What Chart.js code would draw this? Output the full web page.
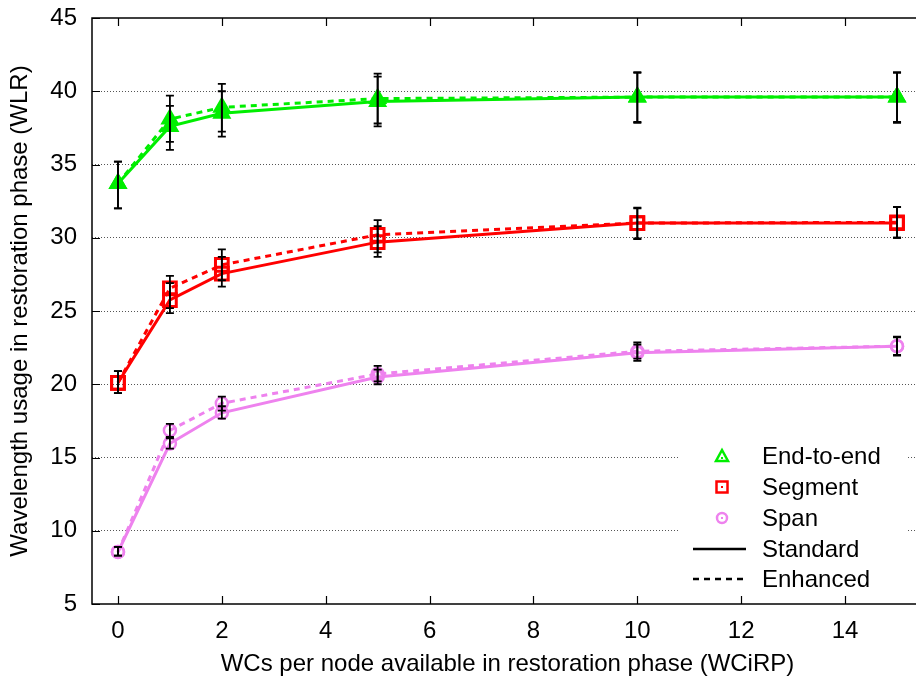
<!DOCTYPE html>
<html lang="en">
<head>
<meta charset="utf-8">
<title>Wavelength usage in restoration phase</title>
<script src="https://cdn.jsdelivr.net/npm/chart.js"></script>
<style>
  html, body { margin: 0; padding: 0; background: #fff; overflow: hidden; }
  #wrap { position: absolute; left: 0; top: 0; width: 924px; height: 684px; }
  #wlr-chart { display: block; width: 924px; height: 684px; }
</style>
</head>
<body>
<div id="wrap"><canvas id="wlr-chart" width="924" height="684"></canvas></div>
<script>
// WCs per node available in restoration phase
const wcirp = [0, 1, 2, 5, 10, 15];
const xTicks = [0, 2, 4, 6, 8, 10, 12, 14];
const yTicks = [5, 10, 15, 20, 25, 30, 35, 40, 45];

// End-to-end
const e2eStd   = [33.7, 37.6, 38.5, 39.3, 39.6, 39.6];
const e2eStdLo = [32.0, 36.0, 36.9, 37.6, 37.85, 37.85];
const e2eStdHi = [35.2, 39.0, 40.0, 41.0, 41.25, 41.25];
const e2eEnh   = [33.7, 38.1, 38.9, 39.5, 39.6, 39.6];
const e2eEnhLo = [32.0, 36.55, 37.25, 37.8, 37.9, 37.9];
const e2eEnhHi = [35.2, 39.7, 40.5, 41.2, 41.3, 41.3];

// Segment
const segStd   = [20.1, 25.75, 27.55, 29.7, 31.0, 31.0];
const segStdLo = [19.4, 24.85, 26.66, 28.7, 29.9, 30.0];
const segStdHi = [20.9, 26.9, 28.7, 30.8, 32.0, 32.1];
const segEnh   = [20.1, 26.55, 28.15, 30.2, 31.0, 31.05];
const segEnhLo = [19.4, 25.2, 27.1, 29.0, 29.95, 30.0];
const segEnhHi = [20.9, 27.4, 29.2, 31.2, 32.05, 32.1];

// Span
const spanStd   = [8.55, 15.95, 18.05, 20.5, 22.15, 22.6];
const spanStdLo = [8.3, 15.6, 17.66, 20.0, 21.6, 21.95];
const spanStdHi = [8.9, 16.4, 18.5, 21.0, 22.7, 23.2];
const spanEnh   = [8.55, 16.85, 18.7, 20.7, 22.25, 22.6];
const spanEnhLo = [8.3, 16.3, 18.2, 20.2, 21.75, 22.0];
const spanEnhHi = [8.9, 17.3, 19.15, 21.25, 22.85, 23.25];

const GREEN = '#00ee00';
const RED = '#ff0000';
const VIOLET = '#ee82ee';
const FONT = 'Liberation Sans, Arial, sans-serif';

function pts(ys) {
  return wcirp.map((x, i) => ({ x: x, y: ys[i] }));
}

function series(label, ys, lo, hi, color, style, dashed) {
  const filled = style === 'triangle';
  return {
    label: label,
    data: pts(ys),
    errLo: lo,
    errHi: hi,
    borderColor: color,
    backgroundColor: color,
    borderWidth: 3,
    borderDash: dashed ? [6, 5] : [],
    pointStyle: style,
    pointRadius: style === 'triangle' ? 8 : (style === 'rect' ? 9 : 6),
    pointBorderWidth: style === 'circle' ? 2.5 : 3,
    pointBackgroundColor: filled ? color : 'rgba(255,255,255,0)',
    pointBorderColor: color,
    tension: 0,
    fill: false
  };
}

const errorBars = {
  id: 'errorBars',
  afterDatasetsDraw(chart) {
    const ctx = chart.ctx;
    const xs = chart.scales.x, ys = chart.scales.y;
    ctx.save();
    ctx.strokeStyle = '#000';
    ctx.lineWidth = 1.8;
    chart.data.datasets.forEach(ds => {
      ds.data.forEach((p, i) => {
        const px = xs.getPixelForValue(p.x);
        const y1 = ys.getPixelForValue(ds.errLo[i]);
        const y2 = ys.getPixelForValue(ds.errHi[i]);
        ctx.beginPath();
        ctx.moveTo(px, y1); ctx.lineTo(px, y2);
        ctx.moveTo(px - 4, y1); ctx.lineTo(px + 4, y1);
        ctx.moveTo(px - 4, y2); ctx.lineTo(px + 4, y2);
        ctx.stroke();
      });
    });
    ctx.restore();
  }
};

const frameAndKey = {
  id: 'frameAndKey',
  beforeDatasetsDraw(chart) {
    // opaque key box over the grid
    const ctx = chart.ctx;
    ctx.save();
    ctx.fillStyle = '#fff';
    ctx.fillRect(680, 440, 228, 155);
    ctx.restore();
  },
  afterDraw(chart) {
    const ctx = chart.ctx;
    const a = chart.chartArea;
    const xs = chart.scales.x, ys = chart.scales.y;
    ctx.save();
    ctx.strokeStyle = '#000';
    ctx.lineWidth = 1.5;
    ctx.strokeRect(a.left, a.top, a.right - a.left, a.bottom - a.top);
    ctx.beginPath();
    xTicks.forEach(v => {
      const px = Math.round(xs.getPixelForValue(v)) + 0.5;
      ctx.moveTo(px, a.bottom); ctx.lineTo(px, a.bottom - 8);
      ctx.moveTo(px, a.top); ctx.lineTo(px, a.top + 8);
    });
    yTicks.forEach(v => {
      const py = Math.round(ys.getPixelForValue(v)) + 0.5;
      ctx.moveTo(a.left, py); ctx.lineTo(a.left + 8, py);
    });
    ctx.lineWidth = 1.2;
    ctx.stroke();

    // key
    const tx = 762, sx = 722;
    const rows = [456, 487, 518, 549, 579];
    ctx.font = '24px ' + FONT;
    ctx.fillStyle = '#000';
    ctx.textBaseline = 'middle';
    ['End-to-end', 'Segment', 'Span', 'Standard', 'Enhanced'].forEach((t, i) => {
      ctx.fillText(t, tx, rows[i] + 1);
    });
    ctx.lineWidth = 2.5;
    // triangle
    ctx.strokeStyle = GREEN;
    ctx.beginPath();
    ctx.moveTo(sx, rows[0] - 6); ctx.lineTo(sx + 6, rows[0] + 5); ctx.lineTo(sx - 6, rows[0] + 5); ctx.closePath();
    ctx.stroke();
    ctx.fillStyle = GREEN;
    ctx.fillRect(sx - 1, rows[0] + 1, 2, 2);
    // square
    ctx.strokeStyle = RED;
    ctx.strokeRect(sx - 5.5, rows[1] - 5.5, 11, 11);
    ctx.fillStyle = RED;
    ctx.fillRect(sx - 1, rows[1] - 1, 2, 2);
    // circle
    ctx.strokeStyle = VIOLET;
    ctx.beginPath();
    ctx.arc(sx, rows[2], 5, 0, Math.PI * 2);
    ctx.stroke();
    ctx.fillStyle = VIOLET;
    ctx.fillRect(sx - 1, rows[2] - 1, 2, 2);
    // line samples
    ctx.strokeStyle = '#000';
    ctx.lineWidth = 2.5;
    ctx.beginPath();
    ctx.moveTo(693, rows[3]); ctx.lineTo(746, rows[3]);
    ctx.stroke();
    ctx.setLineDash([6, 5]);
    ctx.beginPath();
    ctx.moveTo(693, rows[4]); ctx.lineTo(746, rows[4]);
    ctx.stroke();
    ctx.restore();
  }
};

new Chart(document.getElementById('wlr-chart'), {
  type: 'line',
  data: {
    datasets: [
      series('Span Standard', spanStd, spanStdLo, spanStdHi, VIOLET, 'circle', false),
      series('Span Enhanced', spanEnh, spanEnhLo, spanEnhHi, VIOLET, 'circle', true),
      series('Segment Standard', segStd, segStdLo, segStdHi, RED, 'rect', false),
      series('Segment Enhanced', segEnh, segEnhLo, segEnhHi, RED, 'rect', true),
      series('End-to-end Standard', e2eStd, e2eStdLo, e2eStdHi, GREEN, 'triangle', false),
      series('End-to-end Enhanced', e2eEnh, e2eEnhLo, e2eEnhHi, GREEN, 'triangle', true)
    ]
  },
  options: {
    responsive: false,
    animation: false,
    layout: { autoPadding: false, padding: { top: 18, right: 1, left: 0, bottom: 0 } },
    plugins: { legend: { display: false }, tooltip: { enabled: false } },
    scales: {
      x: {
        type: 'linear',
        min: -0.5,
        max: 15.5,
        afterFit(scale) {
          scale.height = 80;
          scale.paddingLeft = 0;
          scale.paddingRight = 0;
        },
        afterBuildTicks(scale) { scale.ticks = xTicks.map(v => ({ value: v })); },
        grid: { display: false, drawTicks: false },
        border: { display: false },
        ticks: { color: '#000', font: { family: FONT, size: 24 }, padding: 13, maxRotation: 0, autoSkip: false },
        title: {
          display: true,
          text: 'WCs per node available in restoration phase (WCiRP)',
          color: '#000',
          font: { family: FONT, size: 24 },
          padding: { top: 0, bottom: 5 }
        }
      },
      y: {
        min: 5,
        max: 45,
        afterFit(scale) {
          scale.width = 92;
          scale.paddingTop = 0;
          scale.paddingBottom = 0;
        },
        afterBuildTicks(scale) { scale.ticks = yTicks.map(v => ({ value: v })); },
        grid: {
          drawTicks: false,
          color: ctx => (ctx.tick && (ctx.tick.value === 5 || ctx.tick.value === 45)) ? 'rgba(0,0,0,0)' : '#555',
          lineWidth: 1
        },
        border: { display: false, dash: [1, 2] },
        ticks: { color: '#000', font: { family: FONT, size: 24 }, padding: 15, autoSkip: false },
        title: {
          display: true,
          text: 'Wavelength usage in restoration phase (WLR)',
          color: '#000',
          font: { family: FONT, size: 24 },
          padding: { top: 6, bottom: 0 }
        }
      }
    }
  },
  plugins: [errorBars, frameAndKey]
});
</script>
</body>
</html>
